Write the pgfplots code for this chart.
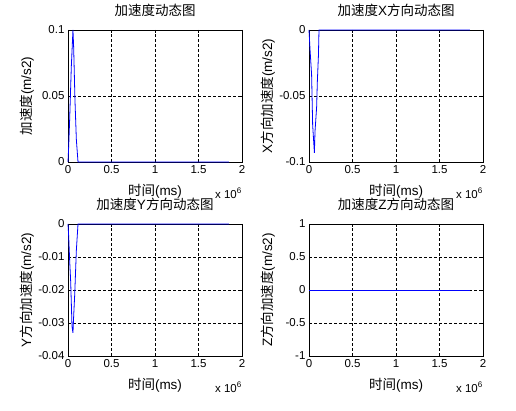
\documentclass[border=0pt]{standalone}
\usepackage{fontspec}
\setmainfont{Liberation Sans}
\newfontfamily\cjk{Noto Sans CJK SC}
\newcommand{\C}[1]{{\cjk #1}}
\usepackage{pgfplots}
\pgfplotsset{compat=1.18}
\pgfplotsset{mystyle/.style={
  width=174pt, height=132pt, scale only axis,
  xmin=0, xmax=2, xtick={0,0.5,1,1.5,2}, xticklabels={0,0.5,1,1.5,2},
  scaled y ticks=false, scaled x ticks=false,
  tick align=inside, major tick length=3pt,
  grid=major, major grid style={black, dash pattern=on 2.5pt off 2.5pt, line width=0.5pt},
  axis line style={black, line width=0.6pt},
  tick style={black, line width=0.6pt},
  ticklabel style={font=\fontsize{11.5}{13}\selectfont},
  /pgf/number format/assume math mode=true,
  title style={at={(axis description cs:0.5,1.106)}, anchor=center, font=\fontsize{13.5}{15}\selectfont},
  xlabel style={at={(axis description cs:0.5,-0.225)}, anchor=center, font=\fontsize{13.5}{15}\selectfont},
  ylabel style={at={(axis description cs:-0.237,0.5)}, anchor=center, font=\fontsize{13.5}{15}\selectfont},
  xlabel={\C{时间}(ms)},
  clip=false,
  no markers,
  every axis plot/.append style={blue, line width=0.8pt, mark=none},
}}
\newcommand{\xscale}{\node[anchor=north east, inner sep=0pt, font=\fontsize{11.5}{13}\selectfont] at (rel axis cs:1,0) [yshift=-26pt] {x 10\textsuperscript{6}};}
\begin{document}
\begin{tikzpicture}
\useasboundingbox (0,0) rectangle (516pt,411pt);
\begin{axis}[mystyle, at={(68pt,249pt)}, anchor=south west,
  ymin=0, ymax=0.1, ytick={0,0.05,0.1}, yticklabels={0,0.05,0.1},
  title={\C{加速度动态图}}, ylabel={\C{加速度}(m/s2)}]
\addplot coordinates {(0,0)(0.008,0.012)(0.019,0.032)(0.038,0.072)(0.057,0.1)(0.065,0.087)(0.08,0.047)(0.096,0.017)(0.115,0)(1.85,0)};
\xscale
\end{axis}
\begin{axis}[mystyle, at={(309pt,249pt)}, anchor=south west,
  ymin=-0.1, ymax=0, ytick={-0.1,-0.05,0}, yticklabels={-0.1,-0.05,0},
  title={\C{加速度}X\C{方向动态图}}, ylabel={X\C{方向加速度}(m/s2)}]
\addplot coordinates {(0,0)(0.012,-0.015)(0.03,-0.034)(0.042,-0.072)(0.062,-0.093)(0.069,-0.077)(0.088,-0.058)(0.096,-0.039)(0.108,-0.02)(0.115,0)(1.85,0)};
\xscale
\end{axis}
\begin{axis}[mystyle, at={(68pt,55pt)}, anchor=south west,
  ymin=-0.04, ymax=0, ytick={-0.04,-0.03,-0.02,-0.01,0}, yticklabels={-0.04,-0.03,-0.02,-0.01,0},
  title={\C{加速度}Y\C{方向动态图}}, ylabel={Y\C{方向加速度}(m/s2)}]
\addplot coordinates {(0,0)(0.008,-0.0038)(0.019,-0.011)(0.031,-0.0175)(0.046,-0.031)(0.057,-0.033)(0.065,-0.028)(0.077,-0.0215)(0.096,-0.008)(0.115,0)(1.85,0)};
\xscale
\end{axis}
\begin{axis}[mystyle, at={(309pt,55pt)}, anchor=south west,
  ymin=-1, ymax=1, ytick={-1,-0.5,0,0.5,1}, yticklabels={-1,-0.5,0,0.5,1},
  title={\C{加速度}Z\C{方向动态图}}, ylabel={Z\C{方向加速度}(m/s2)}]
\addplot coordinates {(0,0)(1.85,0)};
\xscale
\end{axis}
\end{tikzpicture}
\end{document}
